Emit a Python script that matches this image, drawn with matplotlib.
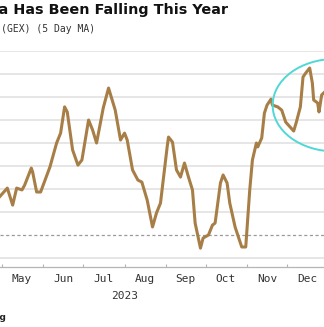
import pandas as pd
import matplotlib
matplotlib.use("Agg")
import matplotlib.pyplot as plt
from matplotlib.patches import Ellipse


# ------------------------------------------------------------
# DATA  (5 day moving average of dealer gamma exposure)
# ------------------------------------------------------------
dates = [
    "2023-04-29", "2023-05-05", "2023-05-09", "2023-05-12", "2023-05-16",
    "2023-05-18", "2023-05-23", "2023-05-24", "2023-05-27", "2023-05-30",
    "2023-06-06", "2023-06-11", "2023-06-14", "2023-06-17", "2023-06-19",
    "2023-06-23", "2023-06-27", "2023-06-30", "2023-07-05", "2023-07-08",
    "2023-07-11", "2023-07-16", "2023-07-20", "2023-07-25", "2023-07-29",
    "2023-08-01", "2023-08-03", "2023-08-07", "2023-08-11", "2023-08-14",
    "2023-08-18", "2023-08-22", "2023-08-25", "2023-08-28", "2023-09-02",
    "2023-09-03", "2023-09-06", "2023-09-09", "2023-09-12", "2023-09-15",
    "2023-09-18", "2023-09-21", "2023-09-23", "2023-09-27", "2023-09-29",
    "2023-10-03", "2023-10-06", "2023-10-08", "2023-10-12", "2023-10-14",
    "2023-10-17", "2023-10-19", "2023-10-23", "2023-10-27", "2023-10-28",
    "2023-10-31", "2023-11-03", "2023-11-05", "2023-11-08", "2023-11-09",
    "2023-11-12", "2023-11-14", "2023-11-16", "2023-11-19", "2023-11-20",
    "2023-11-24", "2023-11-27", "2023-11-30", "2023-12-02", "2023-12-06",
    "2023-12-08", "2023-12-11", "2023-12-13", "2023-12-15", "2023-12-18",
    "2023-12-20", "2023-12-21", "2023-12-24", "2023-12-25", "2023-12-27",
    "2023-12-30",
]
gex = [
    1.65, 2.04, 1.30, 2.04, 1.96,
    2.17, 2.91, 2.74, 1.87, 1.87,
    2.96, 4.00, 4.43, 5.57, 5.35,
    3.70, 3.04, 3.26, 5.00, 4.57,
    4.00, 5.52, 6.39, 5.43, 4.13,
    4.43, 4.13, 2.83, 2.39, 2.30,
    1.52, 0.35, 0.96, 1.39, 3.83,
    4.26, 4.04, 2.83, 2.52, 3.13,
    2.52, 1.96, 0.52, -0.57, -0.13,
    0.00, 0.43, 0.52, 2.26, 2.61,
    2.26, 1.39, 0.35, -0.35, -0.52,
    -0.52, 1.96, 3.26, 4.00, 3.83,
    4.22, 5.30, 5.65, 5.91, 5.65,
    5.57, 5.43, 4.91, 4.78, 4.52,
    4.91, 5.57, 6.87, 7.04, 7.26,
    6.61, 5.87, 5.74, 5.35, 6.09,
    6.26,
]
grid_levels = [-1, 1, 2, 3, 4, 5, 6, 7, 8]
month_labels = ["May", "Jun", "Jul", "Aug", "Sep", "Oct", "Nov", "Dec"]

x = pd.to_datetime(dates)


# ------------------------------------------------------------
# FIGURE
# ------------------------------------------------------------
W, H = 324, 327
fig = plt.figure(figsize=(W / 100, H / 100), dpi=100)
fig.patch.set_facecolor("white")

ax = fig.add_axes([0, (H - 267) / H, 1, (267 - 51) / H])
ax.set_xlim(pd.Timestamp("2023-04-29 12:00"), pd.Timestamp("2023-12-28 18:00"))
ax.set_ylim(-1.39, 8.0)

for lvl in grid_levels:
    ax.axhline(lvl, color="#e4e4e4", lw=1.3, zorder=1)
ax.axhline(0, color="#9a9a9a", lw=0.9, ls=(0, (2.5, 2)), zorder=1)

ax.plot(x, gex, color="#a87e47", lw=2.2, solid_joinstyle="round", zorder=3)

# highlight around the December rebound
ax.add_patch(Ellipse((1.034, 0.749), 0.385, 0.428, transform=ax.transAxes,
                     fill=False, edgecolor="#4fd8d6", lw=1.4, zorder=4))

# axes styling
for side in ["top", "right", "left"]:
    ax.spines[side].set_visible(False)
ax.spines["bottom"].set_color("#b5b5b5")
ax.spines["bottom"].set_linewidth(0.9)
ax.set_yticks([])

month_starts = pd.date_range("2023-05-01", "2023-12-01", freq="MS")
mid_months = month_starts + pd.Timedelta(days=15)
ax.set_xticks(month_starts)
ax.set_xticklabels([])
ax.tick_params(axis="x", which="major", direction="in", length=2.5,
               color="#b5b5b5", width=0.8)
ax.set_xticks(mid_months, minor=True)
ax.set_xticklabels(month_labels, minor=True, family="DejaVu Sans Mono",
                   fontsize=8, color="#333333")
ax.tick_params(axis="x", which="minor", length=0, pad=5)

ax.text(pd.Timestamp("2023-08-01"), -0.134, "2023", transform=ax.get_xaxis_transform(),
        ha="center", va="center", family="DejaVu Sans Mono", fontsize=8,
        color="#333333")

# titles and source
fig.text(228 / W, 1 - 10 / H, "Gamma Has Been Falling This Year",
         ha="right", va="center", fontsize=10.4, fontweight="bold", color="#111111")
fig.text(95 / W, 1 - 29 / H, "S&P 500 Gamma Exposure (GEX) (5 Day MA)",
         ha="right", va="center", family="DejaVu Sans Mono", fontsize=7,
         color="#333333")
fig.text(6 / W, 1 - 317 / H, "Source: Bloomberg", ha="right", va="center",
         fontsize=6.5, fontweight="bold", color="#222222")

fig.savefig("out.png", dpi=100, facecolor="white")
